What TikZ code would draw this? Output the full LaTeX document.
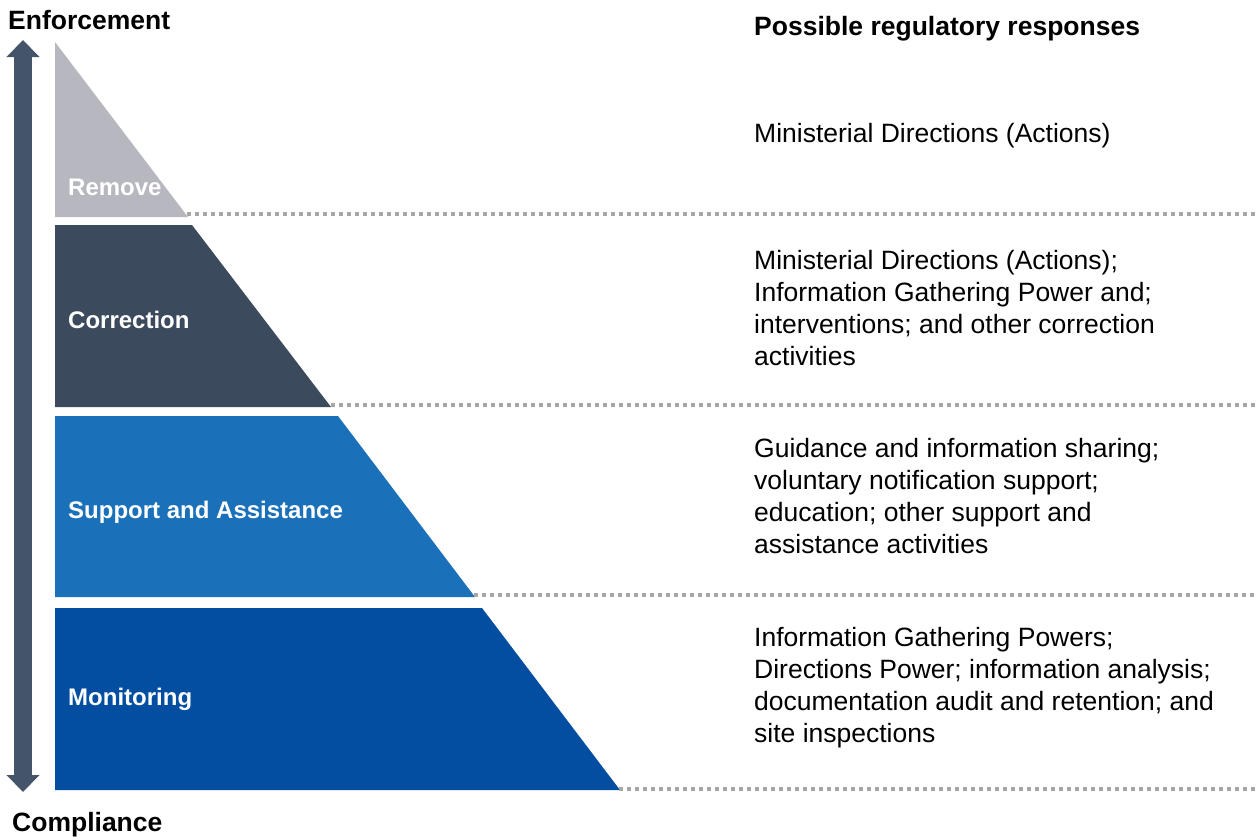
\documentclass[tikz,border=0pt]{standalone}
\usepackage{fontspec}
\setmainfont{Liberation Sans}
\usetikzlibrary{arrows.meta}
\definecolor{cRemove}{HTML}{B6B7BF}
\definecolor{cCorr}{HTML}{3B4A5C}
\definecolor{cSupp}{HTML}{1B71B9}
\definecolor{cMon}{HTML}{034EA0}
\definecolor{cArrow}{HTML}{44546A}
\definecolor{cDot}{HTML}{A6A6A6}
\tikzset{
  tier/.style={draw=none},
  tierlabel/.style={anchor=base west, inner sep=0pt, text=white, font=\fontsize{24}{29}\selectfont\bfseries},
  resp/.style={anchor=north west, inner sep=0pt, align=left, font=\fontsize{26.5}{32}\selectfont},
  head/.style={anchor=base west, inner sep=0pt, font=\fontsize{26.5}{32}\selectfont\bfseries},
  dotline/.style={draw=cDot, line width=3.5pt, dash pattern=on 3.5pt off 4.5pt},
  bigarrow/.style={draw=cArrow, line width=18pt, {Triangle[width=32pt,length=17pt]}-{Triangle[width=32pt,length=17pt]}}
}
\begin{document}
\begin{tikzpicture}[x=1pt,y=-1pt]
\useasboundingbox (0,0) rectangle (1256,836);
% coordinates
\coordinate (arTop) at (23,40);
\coordinate (arBot) at (23,792);
\coordinate (remR) at (187,214);
\coordinate (corR) at (331,405);
\coordinate (supR) at (474,595);
\coordinate (monR) at (619,789);
\coordinate (remE) at (1256,214);
\coordinate (corE) at (1256,405);
\coordinate (supE) at (1256,595);
\coordinate (monE) at (1256,789);
% arrow
\draw[bigarrow] (arBot) -- (arTop);
% tiers
\fill[cRemove] (55,42) -- (188,217) -- (55,217) -- cycle;
\fill[cCorr] (55,225) -- (192,225) -- (331,407) -- (55,407) -- cycle;
\fill[cSupp] (55,416) -- (338,416) -- (475,597) -- (55,597) -- cycle;
\fill[cMon] (55,608) -- (482,608) -- (620,790) -- (55,790) -- cycle;
% dotted lines
\draw[dotline] (remR) -- (remE);
\draw[dotline] (corR) -- (corE);
\draw[dotline] (supR) -- (supE);
\draw[dotline] (monR) -- (monE);
% labels
\node[tierlabel] (lRemove) at (68,195) {Remove};
\node[tierlabel] (lCorr) at (68,328.6) {Correction};
\node[tierlabel] (lSupp) at (68,518.6) {Support and Assistance};
\node[tierlabel] (lMon) at (68,705.6) {Monitoring};
% headings
\node[head] (hEnf) at (8,29) {Enforcement};
\node[head] (hComp) at (12,831) {Compliance};
\node[head] (hResp) at (754,35.5) {Possible regulatory responses};
% responses
\node[resp] (r1) at (754,119.6) {\strut Ministerial Directions (Actions)};
\node[resp] (r2) at (754,246.6) {\strut Ministerial Directions (Actions);\\Information Gathering Power and;\\interventions; and other correction\\activities};
\node[resp] (r3) at (754,434.6) {\strut Guidance and information sharing;\\voluntary notification support;\\education; other support and\\assistance activities};
\node[resp] (r4) at (754,623.6) {\strut Information Gathering Powers;\\Directions Power; information analysis;\\documentation audit and retention; and\\site inspections};
\end{tikzpicture}
\end{document}
